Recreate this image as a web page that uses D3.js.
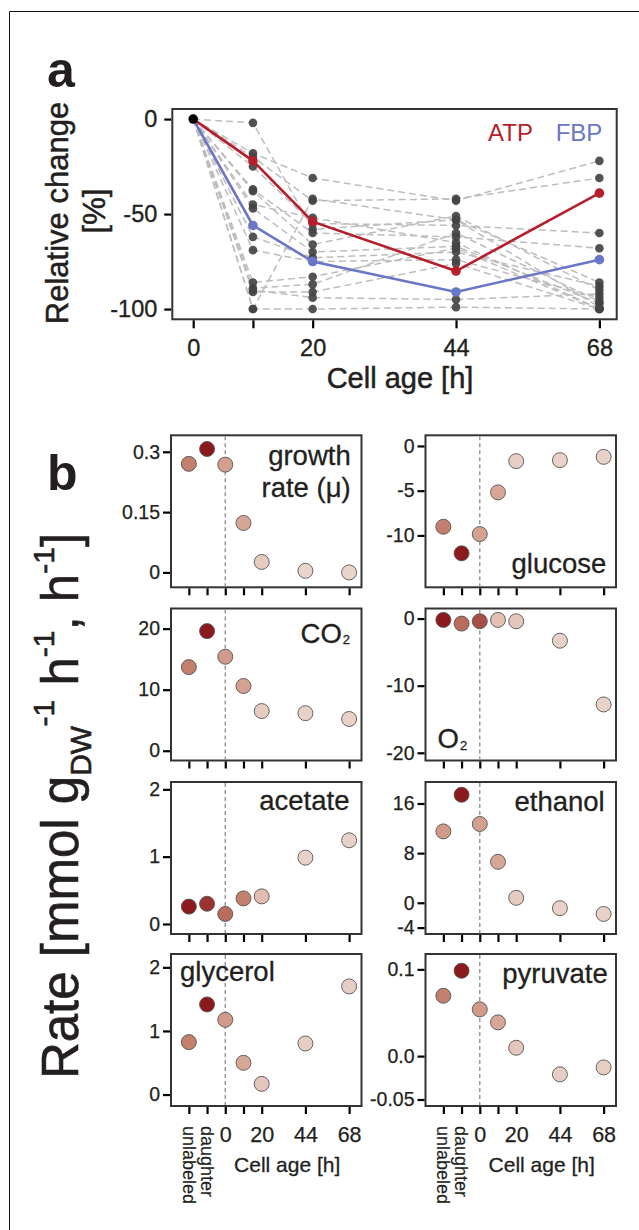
<!DOCTYPE html>
<html>
<head>
<meta charset="utf-8">
<script src="https://cdn.jsdelivr.net/npm/d3@7"></script>
<style>
  html, body { margin: 0; padding: 0; background: #fff; }
  svg { display: block; }
  text { font-family: "Liberation Sans", Arial, Helvetica, sans-serif; fill: #231f20; }
</style>
</head>
<body>
<svg id="chart" width="639" height="1230"></svg>
<script>
// ---------------- DATA ----------------
// Panel a
const panelAHours = [0, 10, 20, 44, 68];
const panelATickLabels = ["0", "", "20", "44", "68"];
const panelAYTicks = [0, -50, -100];
const metaboliteSeries = [
  [0, -2, -58, -53, -86],
  [0, -18, -31, -43, -22],
  [0, -20, -43, -42, -31],
  [0, -25, -55, -56, -60],
  [0, -37, -60, -62, -68],
  [0, -38, -66, -51, -90],
  [0, -45, -52, -65, -100],
  [0, -47, -70, -67, -97],
  [0, -62, -73, -70, -88],
  [0, -69, -75, -74, -94],
  [0, -86, -83, -68, -100],
  [0, -89, -87, -60, -96],
  [0, -91, -91, -76, -100],
  [0, -100, -42, -53, -99],
  [0, -100, -100, -99, -100],
  [0, -90, -94, -95, -92]
];
const atpValues = [0, -22, -54, -80, -39];
const fbpValues = [0, -56, -75, -91, -74];

// Panel b
const cellGroups = ["unlabeled", "daughter", "0", "10", "20", "44", "68"];
// hour-axis position of each group (unlabeled / daughter sit left of 0 h)
const groupHours = [-20, -10, 0, 10, 20, 44, 68];
const groupTickLabels = ["unlabeled", "daughter", "0", "", "20", "44", "68"];

const growthRate = [0.270, 0.307, 0.268, 0.123, 0.026, 0.004, 0.000];
const glucose    = [-9.03, -12.0, -9.85, -5.19, -1.70, -1.59, -1.22];
const co2        = [13.7, 19.6, 15.4, 10.6, 6.5, 6.15, 5.2];
const o2         = [-0.2, -0.75, -0.4, -0.2, -0.4, -3.3, -12.8];
const acetate    = [0.258, 0.300, 0.149, 0.380, 0.410, 0.985, 1.243];
const ethanol    = [11.5, 17.4, 12.7, 6.6, 0.8, -0.87, -1.8];
const glycerol   = [0.825, 1.417, 1.176, 0.499, 0.168, 0.803, 1.700];
const pyruvate   = [0.0696, 0.0984, 0.0539, 0.0389, 0.0096, -0.021, -0.013];

// relative shading of each point (0 = light, 1 = dark)
const growthShade   = [0.6, 1, 0.42, 0.38, 0.12, 0.05, 0.05];
const glucoseShade  = [0.6, 1, 0.40, 0.38, 0.10, 0.08, 0.08];
const co2Shade      = [0.6, 1, 0.45, 0.40, 0.12, 0.08, 0.08];
const o2Shade       = [1, 0.68, 0.80, 0.20, 0.15, 0.08, 0.08];
const acetateShade  = [1, 0.90, 0.68, 0.60, 0.22, 0.08, 0.08];
const ethanolShade  = [0.45, 1, 0.42, 0.38, 0.12, 0.08, 0.08];
const glycerolShade = [0.6, 1, 0.45, 0.38, 0.15, 0.10, 0.10];
const pyruvateShade = [0.6, 1, 0.45, 0.38, 0.15, 0.10, 0.10];

const growthTicks   = [0, 0.15, 0.3];
const glucoseTicks  = [0, -5, -10];
const co2Ticks      = [0, 10, 20];
const o2Ticks       = [0, -10, -20];
const acetateTicks  = [0, 1, 2];
const ethanolTicks  = [-4, 0, 8, 16];
const glycerolTicks = [0, 1, 2];
const pyruvateTicks = [-0.05, 0.0, 0.1];

// ---------------- DRAWING ----------------
const svg = d3.select("#chart");
const RED = "#b51f2b", BLUE = "#6a76c6";
const INK = "#231f20";

function heavy(sel, w) {
  sel.attr("stroke", INK).attr("stroke-width", w == null ? 0.35 : w).attr("paint-order", "stroke");
  return sel;
}

// outer frame
svg.append("path").attr("d", "M9.5,1230 V11.5 H639").attr("fill", "none").attr("stroke", "#111").attr("stroke-width", 1);

// panel letters
svg.append("text").attr("x", 47).attr("y", 87).attr("font-size", 50).attr("font-weight", "bold").text("a");
svg.append("text").attr("x", 47).attr("y", 490).attr("font-size", 50).attr("font-weight", "bold").text("b");

// ---- Panel a ----
const A = { left: 172.3, right: 616.7, top: 109, bottom: 319.3 };
const xa = d3.scaleLinear().domain([-3.5, 70.9]).range([A.left, A.right]);
const ya = d3.scaleLinear().domain([-105.4, 5.3]).range([A.bottom, A.top]);
const ga = svg.append("g");

ga.append("rect").attr("x", A.left).attr("y", A.top).attr("width", A.right - A.left).attr("height", A.bottom - A.top)
  .attr("fill", "none").attr("stroke", "#333").attr("stroke-width", 2);

const lineA = d3.line().x((d, i) => xa(panelAHours[i])).y(d => ya(d));
ga.selectAll(".gl").data(metaboliteSeries).enter().append("path")
  .attr("d", lineA).attr("fill", "none").attr("stroke", "#bdbdbd").attr("stroke-width", 1.5).attr("stroke-dasharray", "7,4");

metaboliteSeries.forEach(s => {
  ga.selectAll(null).data(s.slice(1)).enter().append("circle")
    .attr("cx", (d, i) => xa(panelAHours[i + 1])).attr("cy", d => ya(d)).attr("r", 4.3)
    .attr("fill", "#444").attr("fill-opacity", 0.92);
});

[[atpValues, RED], [fbpValues, BLUE]].forEach(([vals, col]) => {
  ga.append("path").attr("d", lineA(vals)).attr("fill", "none").attr("stroke", col).attr("stroke-width", 2.6);
  ga.selectAll(null).data(vals.slice(1)).enter().append("circle")
    .attr("cx", (d, i) => xa(panelAHours[i + 1])).attr("cy", d => ya(d)).attr("r", 4.8).attr("fill", col);
});
ga.append("circle").attr("cx", xa(0)).attr("cy", ya(0)).attr("r", 4.8).attr("fill", "#000");

// axes a
const yAxisA = d3.axisLeft(ya).tickValues(panelAYTicks).tickSize(7).tickPadding(7).tickFormat(d => String(d));
const gya = ga.append("g").attr("transform", `translate(${A.left - 1},0)`).call(yAxisA);
const xAxisA = d3.axisBottom(xa).tickValues(panelAHours).tickSize(8).tickPadding(11).tickFormat((d, i) => panelATickLabels[i]);
const gxa = ga.append("g").attr("transform", `translate(0,${A.bottom + 1})`).call(xAxisA);
[gya, gxa].forEach(g => {
  g.select(".domain").remove();
  g.selectAll("line").attr("stroke", "#000").attr("stroke-width", 2.2);
  heavy(g.selectAll("text").attr("font-size", 23.5).attr("fill", INK).attr("font-family", '"Liberation Sans", Arial, sans-serif'));
});

heavy(ga.append("text").attr("x", 400).attr("y", 388).attr("text-anchor", "middle").attr("font-size", 29).text("Cell age [h]"), 0.5);
heavy(ga.append("text").attr("transform", "translate(68,213) rotate(-90)").attr("text-anchor", "middle").attr("font-size", 31).text("Relative change"), 0.5);
heavy(ga.append("text").attr("transform", "translate(105,211) rotate(-90)").attr("text-anchor", "middle").attr("font-size", 31).text("[%]"), 0.5);

ga.append("text").attr("x", 488).attr("y", 140.7).attr("font-size", 24).style("fill", RED).text("ATP");
ga.append("text").attr("x", 555.7).attr("y", 140.7).attr("font-size", 24).style("fill", BLUE).text("FBP");

// ---- Panel b ----
const colLeft = [171, 425.5];
const colWidth = 190.5;
const rowTop = [435.3, 608.5, 782, 954];
const rowHeight = 152;

const shadeColor = d3.scaleLinear().domain([0, 0.35, 0.6, 1])
  .range(["#eddcd4", "#d9ab9b", "#c4806f", "#8c1a1c"]).interpolate(d3.interpolateRgb);

const panels = [
  { col: 0, row: 0, values: growthRate, shade: growthShade, ticks: growthTicks, fmt: d => String(d), domain: [-0.037, 0.341], title: "growth rate (μ)", anchor: "end", dx: 10.8, ty: 29.7 },
  { col: 1, row: 0, values: glucose, shade: glucoseShade, ticks: glucoseTicks, fmt: d => String(d), domain: [-15.8, 1.19], title: "glucose", anchor: "end", dx: 9.7, ty: 138 },
  { col: 0, row: 1, values: co2, shade: co2Shade, ticks: co2Ticks, fmt: d => String(d), domain: [-1.6, 23.3], title: "CO2", anchor: "end", dx: 11.5, ty: 34 },
  { col: 1, row: 1, values: o2, shade: o2Shade, ticks: o2Ticks, fmt: d => String(d), domain: [-21.15, 1.5], title: "O2", anchor: "start", dx: 12, ty: 139.8 },
  { col: 0, row: 2, values: acetate, shade: acetateShade, ticks: acetateTicks, fmt: d => String(d), domain: [-0.149, 2.109], title: "acetate", anchor: "end", dx: 12, ty: 28 },
  { col: 1, row: 2, values: ethanol, shade: ethanolShade, ticks: ethanolTicks, fmt: d => String(d), domain: [-5.03, 19.46], title: "ethanol", anchor: "end", dx: 11.3, ty: 28.7 },
  { col: 0, row: 3, values: glycerol, shade: glycerolShade, ticks: glycerolTicks, fmt: d => String(d), domain: [-0.18, 2.21], title: "glycerol", anchor: "start", dx: 9, ty: 27 },
  { col: 1, row: 3, values: pyruvate, shade: pyruvateShade, ticks: pyruvateTicks, fmt: d => d === 0 ? "0.0" : String(d), domain: [-0.0575, 0.1177], title: "pyruvate", anchor: "end", dx: 8.3, ty: 28.7 }
];

panels.forEach(p => {
  const x0 = colLeft[p.col], y0 = rowTop[p.row];
  const xs = d3.scaleLinear().domain([-29.8, 74.8]).range([x0, x0 + colWidth]);
  const ys = d3.scaleLinear().domain(p.domain).range([y0 + rowHeight, y0]);
  const g = svg.append("g");

  g.append("rect").attr("x", x0).attr("y", y0).attr("width", colWidth).attr("height", rowHeight)
    .attr("fill", "#fff").attr("stroke", "#333").attr("stroke-width", 2);

  g.append("line").attr("x1", xs(0)).attr("x2", xs(0)).attr("y1", y0 + 1).attr("y2", y0 + rowHeight - 1)
    .attr("stroke", "#9a9a9a").attr("stroke-width", 1.5).attr("stroke-dasharray", "4,3");

  // y axis
  const gy = g.append("g").attr("transform", `translate(${x0 - 1},0)`)
    .call(d3.axisLeft(ys).tickValues(p.ticks).tickSize(7).tickPadding(3).tickFormat(p.fmt));
  // x axis
  const last = p.row === 3;
  const gx = g.append("g").attr("transform", `translate(0,${y0 + rowHeight + 1})`)
    .call(d3.axisBottom(xs).tickValues(groupHours).tickSize(7).tickPadding(13)
      .tickFormat((d, i) => last && i >= 2 ? groupTickLabels[i] : ""));
  [gy, gx].forEach(a => {
    a.select(".domain").remove();
    a.selectAll("line").attr("stroke", "#000").attr("stroke-width", 2.2);
    heavy(a.selectAll("text").attr("fill", INK).attr("font-family", '"Liberation Sans", Arial, sans-serif'), 0.25);
  });
  gy.selectAll("text").attr("font-size", 19.5);
  gx.selectAll("text").attr("font-size", 21.5);

  if (last) {
    [0, 1].forEach(i => {
      heavy(g.append("text").attr("transform", `translate(${xs(groupHours[i])},${y0 + rowHeight + 20}) rotate(90)`)
        .attr("dy", "0.35em").attr("font-size", 18).text(groupTickLabels[i]), 0.2);
    });
    heavy(g.append("text").attr("x", xs(34)).attr("y", y0 + rowHeight + 66).attr("text-anchor", "middle")
      .attr("font-size", 21).text("Cell age [h]"), 0.3);
  }

  // points
  g.selectAll("circle.pt").data(p.values).enter().append("circle")
    .attr("cx", (d, i) => xs(groupHours[i])).attr("cy", d => ys(d)).attr("r", 7.5)
    .attr("fill", (d, i) => shadeColor(p.shade[i])).attr("stroke", "#555").attr("stroke-width", 0.9);

  // titles
  const tx = p.anchor === "end" ? x0 + colWidth - p.dx : x0 + p.dx;
  const FS = 27.5;
  if (p.title === "growth rate (μ)") {
    heavy(g.append("text").attr("x", tx).attr("y", y0 + p.ty).attr("text-anchor", "end").attr("font-size", FS).text("growth"), 0.3);
    heavy(g.append("text").attr("x", tx).attr("y", y0 + p.ty + 31.7).attr("text-anchor", "end").attr("font-size", FS).text("rate (μ)"), 0.3);
  } else if (p.title === "CO2" || p.title === "O2") {
    const t = heavy(g.append("text").attr("x", tx).attr("y", y0 + p.ty).attr("text-anchor", p.anchor).attr("font-size", FS), 0.3);
    t.append("tspan").text(p.title.slice(0, -1));
    t.append("tspan").attr("font-size", 13).attr("dx", 1).attr("dy", 1.5).text("2");
  } else {
    heavy(g.append("text").attr("x", tx).attr("y", y0 + p.ty).attr("text-anchor", p.anchor).attr("font-size", FS).text(p.title), 0.3);
  }
});

// big y label for panel b
const big = heavy(svg.append("text").attr("transform", "translate(78,806) rotate(-90)").attr("text-anchor", "middle").attr("font-size", 51), 0.6);
big.append("tspan").text("Rate [mmol g");
big.append("tspan").attr("font-size", 30).attr("dy", 13).text("DW");
big.append("tspan").attr("font-size", 30).attr("dy", -37).text("-1");
big.append("tspan").attr("dy", 24).text(" h");
big.append("tspan").attr("font-size", 30).attr("dy", -24).text("-1");
big.append("tspan").attr("dy", 24).text(", h");
big.append("tspan").attr("font-size", 30).attr("dy", -24).text("-1");
big.append("tspan").attr("dy", 24).text("]");
</script>
</body>
</html>
